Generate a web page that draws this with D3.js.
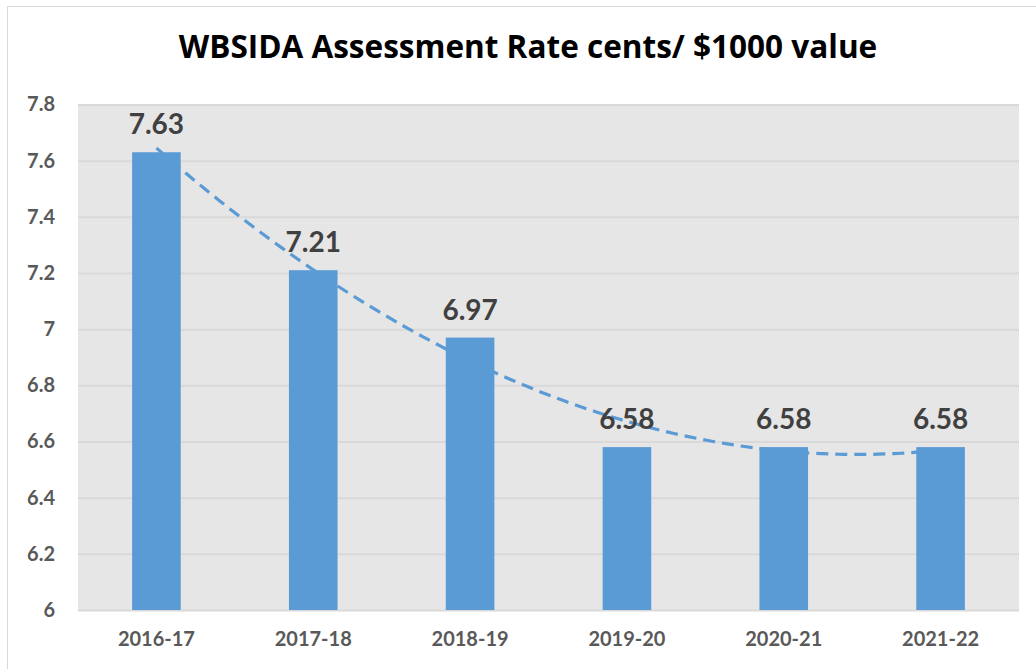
<!DOCTYPE html>
<html>
<head>
<meta charset="utf-8">
<script src="https://cdn.jsdelivr.net/npm/d3@7"></script>
<style>
  body { margin: 0; background: #fff; }
  svg { display: block; font-family: Lato, "Open Sans", sans-serif; }
</style>
</head>
<body>
<div id="chart"></div>
<script>
let years = ["2016-17", "2017-18", "2018-19", "2019-20", "2020-21", "2021-22"];
let rates = [7.63, 7.21, 6.97, 6.58, 6.58, 6.58];
let yTicks = [6, 6.2, 6.4, 6.6, 6.8, 7, 7.2, 7.4, 7.6, 7.8];

let width = 1036,
    height = 669,
    margin = {top: 104.5, right: 17, bottom: 59, left: 78};

let svg = d3.select("#chart").append("svg")
    .attr("width", width)
    .attr("height", height);

// chart frame
svg.append("rect")
    .attr("x", 7.5).attr("y", 6.5)
    .attr("width", width + 10).attr("height", height + 10)
    .attr("fill", "none").attr("stroke", "#d9d9d9");

let title = svg.append("text")
    .attr("x", 528)
    .attr("y", 58)
    .attr("text-anchor", "middle")
    .attr("font-family", "'Open Sans', sans-serif")
    .attr("font-size", 28)
    .attr("font-weight", "bold")
    .attr("fill", "#000")
    .text("WBSIDA Assessment Rate cents/ $1000 value");

// fit the title to the width it takes in the original
let tw = title.node().getComputedTextLength();
title.attr("font-size", 28 * 699 / tw);

let x = d3.scaleBand()
    .domain(years)
    .range([margin.left, width - margin.right])
    .paddingInner(0.69)
    .paddingOuter(0.345);

let y = d3.scaleLinear()
    .domain([6, 7.8])
    .range([height - margin.bottom, margin.top]);

svg.append("rect")
    .attr("x", margin.left)
    .attr("y", margin.top)
    .attr("width", width - margin.right - margin.left)
    .attr("height", height - margin.bottom - margin.top)
    .attr("fill", "#e6e6e6");

let yAxis = d3.axisLeft(y)
    .tickValues(yTicks)
    .tickSize(-(width - margin.right - margin.left))
    .tickPadding(23)
    .tickFormat(d3.format("~g"));

svg.append("g")
    .attr("transform", "translate(" + margin.left + ",0)")
    .call(yAxis)
    .call(g => g.select(".domain").remove())
    .call(g => g.selectAll(".tick line").attr("stroke", "#d9d9d9").attr("stroke-width", 2))
    .call(g => g.selectAll(".tick text")
        .attr("font-size", 20).attr("font-weight", "bold")
        .attr("fill", "#595959").attr("font-family", "Lato, sans-serif"));

let xAxis = d3.axisBottom(x).tickSize(0).tickPadding(22);

svg.append("g")
    .attr("transform", "translate(0," + y(6) + ")")
    .call(xAxis)
    .call(g => g.select(".domain").remove())
    .call(g => g.selectAll(".tick text")
        .attr("font-size", 20).attr("font-weight", "bold")
        .attr("fill", "#595959").attr("font-family", "Lato, sans-serif"));

svg.selectAll(".bar")
    .data(rates)
    .enter().append("rect")
    .attr("class", "bar")
    .attr("x", (d, i) => x(years[i]))
    .attr("y", d => y(d))
    .attr("width", x.bandwidth())
    .attr("height", d => y(6) - y(d))
    .attr("fill", "#5b9bd5");

// polynomial (order 2) trendline, least squares on the bar values
let n = rates.length;
let ts = rates.map((d, i) => i + 1 - (n + 1) / 2);
let s2 = d3.sum(ts, t => t * t), s4 = d3.sum(ts, t => t ** 4);
let sy = d3.sum(rates), sty = d3.sum(rates, (d, i) => ts[i] * d), st2y = d3.sum(rates, (d, i) => ts[i] * ts[i] * d);
let b = sty / s2;
let c = (st2y - s2 * sy / n) / (s4 - s2 * s2 / n);
let a = (sy - c * s2) / n;

let trend = d3.range(0, n - 1 + 0.001, 0.05).map(k => {
    let t = k - (n - 1) / 2;
    return [k, a + b * t + c * t * t];
});

let xi = d3.scaleLinear()
    .domain([0, n - 1])
    .range([x(years[0]) + x.bandwidth() / 2, x(years[n - 1]) + x.bandwidth() / 2]);

svg.append("path")
    .datum(trend)
    .attr("fill", "none")
    .attr("stroke", "#5b9bd5")
    .attr("stroke-width", 3.2)
    .attr("stroke-dasharray", "12,7")
    .attr("d", d3.line().curve(d3.curveBasis).x(d => xi(d[0])).y(d => y(d[1])));

svg.selectAll(".label")
    .data(rates)
    .enter().append("text")
    .attr("class", "label")
    .attr("x", (d, i) => x(years[i]) + x.bandwidth() / 2)
    .attr("y", d => y(d) - 18)
    .attr("text-anchor", "middle")
    .attr("font-size", 28)
    .attr("font-weight", "bold")
    .attr("fill", "#404040")
    .text(d => d3.format(".2f")(d));
</script>
</body>
</html>
